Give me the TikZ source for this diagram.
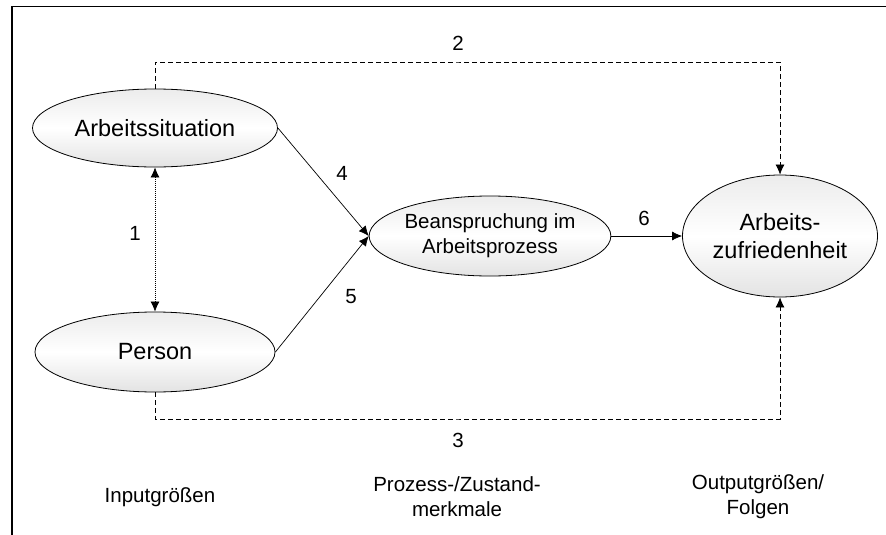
\documentclass[tikz,border=0pt]{standalone}
\usepackage{fontspec}
\setmainfont{Liberation Sans}
\usetikzlibrary{shapes.geometric,arrows.meta}
\tikzset{
  field/.style = {
    ellipse, draw, line width=0.8pt, inner sep=0pt, align=center,
    top color=gray!15, bottom color=gray!22, middle color=white
  },
  big/.style = {font=\fontsize{23.5}{28.5}\selectfont},
  small/.style = {font=\fontsize{20.5}{25}\selectfont, align=center},
  link/.style = {->, line width=0.7pt},
  dashlink/.style = {->, line width=0.7pt, dash pattern=on 5pt off 3pt},
  dotlink/.style = {<->, line width=0.7pt, dash pattern=on 1pt off 1pt}
}
\tikzset{>={Latex[length=10pt,width=9pt]}}

\begin{document}
\begin{tikzpicture}[x=1pt,y=-1pt]
  \useasboundingbox (0,0) rectangle (886,535);
  \draw[line width=1.8pt] (11.7,535) -- (11.7,6.5) -- (886,6.5);
  % ellipses
  \node[field,big,minimum width=245pt,minimum height=78pt] (sit) at (155,128) {Arbeitssituation};
  \node[field,big,minimum width=240pt,minimum height=80pt] (pers) at (155,352) {Person};
  \node[field,small,minimum width=241pt,minimum height=80pt] (bean) at (490,236) {Beanspruchung im\\Arbeitsprozess};
  \node[field,big,minimum width=195pt,minimum height=122pt] (zuf) at (780,236) {Arbeits-\\zufriedenheit};
  % connectors
  \coordinate (top) at (458,62);
  \coordinate (bot) at (458,419);
  \draw[dotlink] (sit.south) -- (pers.north);
  \draw[link] (sit.east) -- (bean.west);
  \draw[link] (pers.east) -- (bean.west);
  \draw[link] (bean.east) -- (zuf.west);
  \draw[dashlink] (sit.north) |- (top) -| (zuf.north);
  \draw[dashlink] (pers.south) |- (bot) -| (zuf.south);
  % numbers
  \node[small] (n1) at (135,233) {1};
  \node[small] (n2) at (458,43) {2};
  \node[small] (n3) at (458,440) {3};
  \node[small] (n4) at (342,173) {4};
  \node[small] (n5) at (351,297) {5};
  \node[small] (n6) at (644,218) {6};
  % columns
  \node[small] (in) at (160,497) {Inputgrößen};
  \node[small] (proc) at (457,497) {Prozess-/Zustand-\\merkmale};
  \node[small] (out) at (758,497) {Outputgrößen/\\Folgen};
\end{tikzpicture}
\end{document}
